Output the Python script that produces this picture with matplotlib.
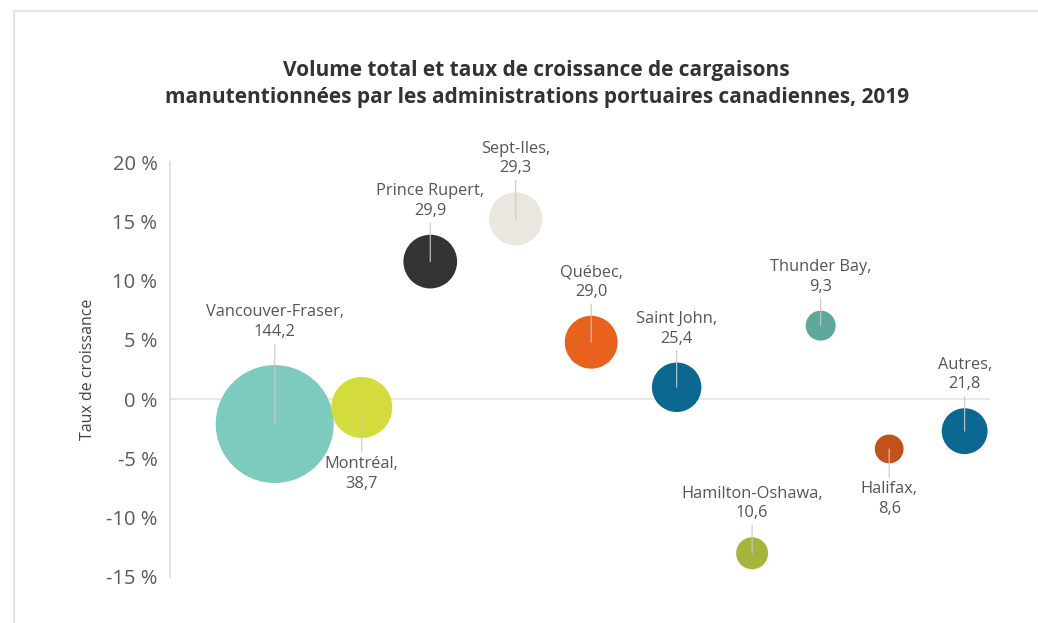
import matplotlib
matplotlib.use("Agg")
import matplotlib.pyplot as plt
from matplotlib.lines import Line2D
from matplotlib.ticker import FuncFormatter
import numpy as np

# Ports, volume (Mt) and growth rate (%), 2019
PORTS = [
    "Vancouver-Fraser", "Montréal", "Prince Rupert", "Sept-Iles", "Québec",
    "Saint John", "Hamilton-Oshawa", "Thunder Bay", "Halifax", "Autres",
]
VOLUME = [144.2, 38.7, 29.9, 29.3, 29.0, 25.4, 10.6, 9.3, 8.6, 21.8]
GROWTH = [-2.1, -0.7, 11.6, 15.2, 4.8, 1.0, -13.0, 6.2, -4.2, -2.7]
# horizontal placement along the (unlabelled) x axis
POSITION = [1.36, 2.49, 3.38, 4.49, 5.47, 6.58, 7.56, 8.45, 9.34, 10.32]
# where the label sits relative to its bubble
LABEL_SIDE = ["above", "below", "above", "above", "above",
              "above", "above", "above", "below", "above"]
COLORS = ["#7ccbbe", "#d3dc3c", "#333333", "#e9e7df", "#e8611d",
          "#0b6890", "#a7b43c", "#5ea79b", "#c2521c", "#0b6890"]

YTICKS = [-15, -10, -5, 0, 5, 10, 15, 20]
TITLE = ("Volume total et taux de croissance de cargaisons\n"
         "manutentionnées par les administrations portuaires canadiennes, 2019")

plt.rcParams["font.family"] = ["Open Sans", "DejaVu Sans"]

fig = plt.figure(figsize=(10.38, 6.23), dpi=100)
fig.patch.set_facecolor("white")

# thin frame round the graphic (top and left edges only)
frame = "#e4e4e4"
fig.add_artist(Line2D([14 / 1038, 1], [1 - 11 / 623] * 2, color=frame, lw=1.6))
fig.add_artist(Line2D([14 / 1038] * 2, [0, 1 - 11 / 623], color=frame, lw=1.6))

ax = fig.add_axes([170 / 1038, 46 / 623, 830 / 1038, 415 / 623])
ax.set_xlim(0, 830 / 77)
ax.set_ylim(-15, 20)
ax.set_facecolor("none")

for side in ("top", "right", "bottom"):
    ax.spines[side].set_visible(False)
ax.spines["left"].set_color("#dddddd")
ax.spines["left"].set_linewidth(1.2)
ax.set_xticks([])
ax.set_yticks(YTICKS)
ax.yaxis.set_major_formatter(FuncFormatter(lambda v, _: f"{v:.0f} %"))
ax.tick_params(axis="y", length=0, pad=9, labelsize=14.5, labelcolor="#5a5a5a")
ax.set_ylabel("Taux de croissance", fontsize=11.5, color="#444444")
ax.yaxis.set_label_coords(-0.089, 0.5)

ax.hlines(0, 0, 10.65, color="#e6e6e6", lw=1.3, zorder=0)

sizes = np.array(VOLUME) * 50  # bubble area proportional to volume
ax.scatter(POSITION, GROWTH, s=sizes, c=COLORS, edgecolors="none", zorder=2)

for name, vol, x, y, s, side in zip(PORTS, VOLUME, POSITION, GROWTH, sizes, LABEL_SIDE):
    r = np.sqrt(s) / 2
    gap = 16 if name != "Vancouver-Fraser" else 25
    dy = r + gap * 0.72 if side == "above" else -(r + 13)
    ax.annotate(
        f"{name},\n{vol:.1f}".replace(".", ","),
        xy=(x, y), xytext=(0, dy), textcoords="offset points",
        ha="center", va="bottom" if side == "above" else "top",
        fontsize=11.8, color="#555555", linespacing=1.3,
        arrowprops=dict(arrowstyle="-", color="#c8c8c8", lw=0.8,
                        shrinkA=1, shrinkB=0),
        zorder=3,
    )

fig.text(0.517, 1 - 84 / 623, TITLE, ha="center", va="center",
         fontsize=15, fontweight="bold", color="#333333", linespacing=1.38)

fig.savefig("out.png", dpi=100)
